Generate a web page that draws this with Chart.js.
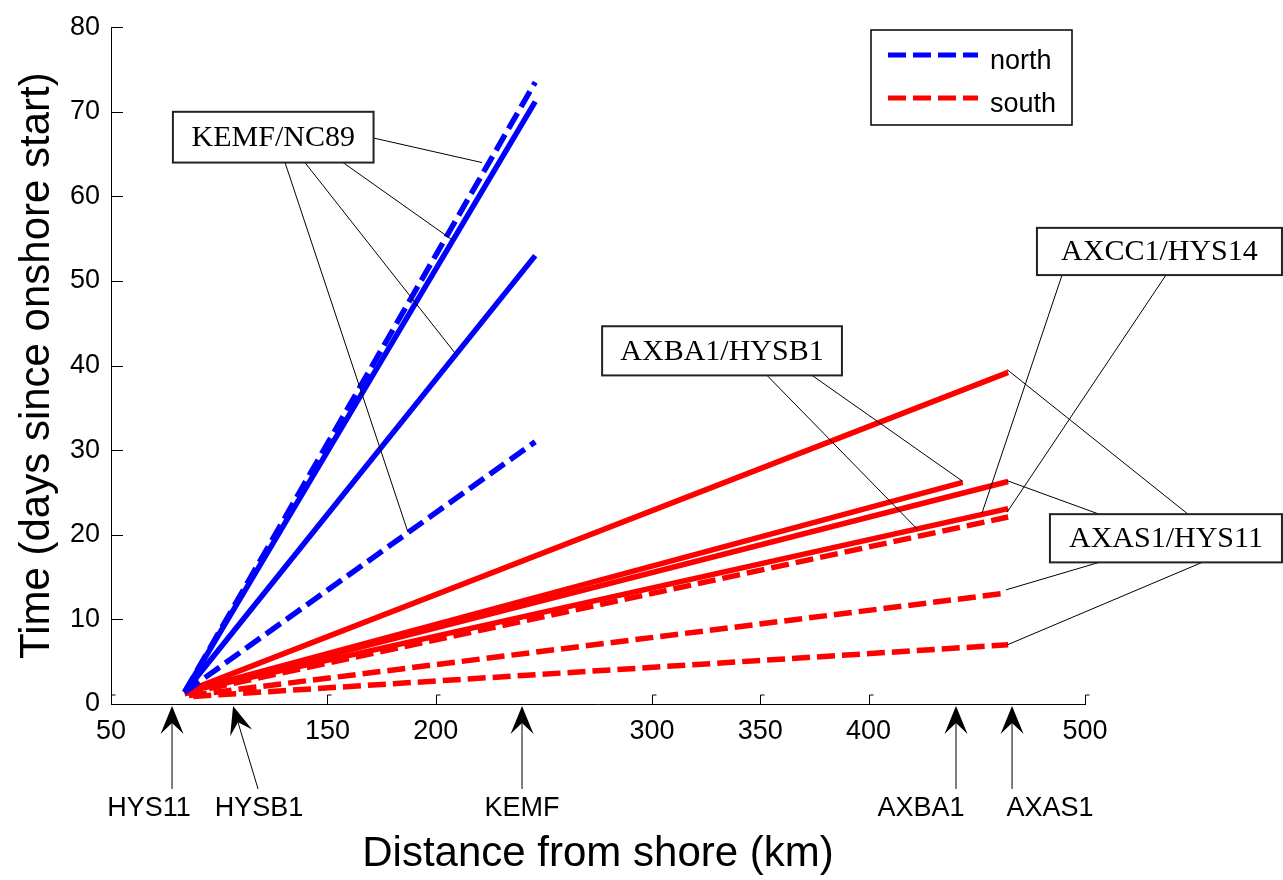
<!DOCTYPE html>
<html>
<head>
<meta charset="utf-8">
<script src="https://cdn.jsdelivr.net/npm/chart.js@4.4.1/dist/chart.umd.min.js"></script>
<style>
  html, body { margin: 0; padding: 0; background: #fff; }
</style>
</head>
<body>
<canvas id="myChart" width="1283" height="880"></canvas>
<script>
const xTickValues = [50, 150, 200, 300, 350, 400, 500];
const yTickValues = [0, 10, 20, 30, 40, 50, 60, 70, 80];

// all runs start just offshore of HYS11
const originX = 84;
const originY = 1.4;

const northEndX = 246;
const northSolidEndY = [71.2, 53.0];
const northDashedEndY = [73.5, 31.0];

const southSolidEndX = [464.5, 443.5, 464.5, 464.5];
const southSolidEndY = [39.2, 26.2, 26.3, 23.1];

const southDashedStartX = [84, 86, 88];
const southDashedStartY = [1.2, 1.0, 0.9];
const southDashedEndX = [464.5, 463.5, 464.5];
const southDashedEndY = [22.1, 13.1, 7.0];

const stationNames = ["HYS11", "HYSB1", "KEMF", "AXBA1", "AXAS1"];
const stationX = [78.2, 106.4, 239.9, 440.4, 466.3];

const legendNames = ["north", "south"];

const SANS = '"Liberation Sans", Arial, sans-serif';
const SERIF = '"Liberation Serif", "Times New Roman", serif';
const BLUE = "#0000ff";
const RED = "#ff0000";
const DASH = [18, 7];

function segment(x1, y1, x2, y2, color, dashed) {
  return {
    data: [{ x: x1, y: y1 }, { x: x2, y: y2 }],
    showLine: true,
    borderColor: color,
    backgroundColor: color,
    borderWidth: 5.5,
    borderDash: dashed ? DASH : [],
    pointRadius: 0,
    pointHoverRadius: 0,
  };
}

function buildDatasets() {
  const sets = [];
  northSolidEndY.forEach(y => sets.push(segment(originX, originY, northEndX, y, BLUE, false)));
  northDashedEndY.forEach(y => sets.push(segment(originX, originY, northEndX, y, BLUE, true)));
  southSolidEndY.forEach((y, i) => sets.push(segment(originX, originY, southSolidEndX[i], y, RED, false)));
  southDashedEndY.forEach((y, i) =>
    sets.push(segment(southDashedStartX[i], southDashedStartY[i], southDashedEndX[i], y, RED, true)));
  return sets;
}

// callout boxes and leader lines, in data units
const callouts = [
  {
    text: "KEMF/NC89", box: [78.6, 70.0, 171.3, 64.0],
    leaders: [[171.3, 66.9, 221.4, 64.0], [157.2, 64.0, 208.0, 54.8],
              [139.6, 64.0, 208.9, 41.5], [130.4, 64.0, 187.2, 20.3]],
  },
  {
    text: "AXBA1/HYSB1", box: [276.9, 44.65, 387.7, 38.84],
    leaders: [[353.1, 38.84, 422.4, 20.7], [373.9, 38.84, 443.6, 26.3]],
  },
  {
    text: "AXCC1/HYS14", box: [477.8, 56.28, 591.0, 50.7],
    leaders: [[489.4, 50.7, 452.4, 22.56], [537.4, 50.7, 464.0, 22.67]],
  },
  {
    text: "AXAS1/HYS11", box: [483.8, 22.44, 591.0, 16.74],
    leaders: [[547.6, 22.44, 464.0, 39.53], [506.5, 22.44, 464.0, 26.4],
              [506.5, 16.74, 463.5, 13.49], [554.1, 16.74, 464.0, 6.98]],
  },
];

// tail offset (px) and label offset (px) of each station arrow
const arrowTailDx = [0, 25, 0, 0, 0];
const arrowLabelDx = [-23, 26, 0, -35, 38];

function px(chart, v) { return chart.scales.x.getPixelForValue(v); }
function py(chart, v) { return chart.scales.y.getPixelForValue(v); }

const inwardTicks = {
  id: "inwardTicks",
  afterDraw(chart) {
    const ctx = chart.ctx;
    const area = chart.chartArea;
    ctx.save();
    ctx.strokeStyle = "#000";
    ctx.lineWidth = 1;
    ctx.beginPath();
    xTickValues.forEach(v => {
      const x = Math.round(px(chart, v)) + 0.5;
      ctx.moveTo(x, area.bottom);
      ctx.lineTo(x, area.bottom - 9);
      ctx.lineTo(x + 4, area.bottom - 9);
    });
    yTickValues.forEach(v => {
      const y = Math.round(py(chart, v)) + 0.5;
      ctx.moveTo(area.left, y);
      ctx.lineTo(area.left + 12, y);
    });
    ctx.stroke();
    ctx.restore();
  },
};

function drawArrow(ctx, tipX, tipY, tailX, tailY) {
  const ang = Math.atan2(tailY - tipY, tailX - tipX);
  const ux = Math.cos(ang), uy = Math.sin(ang);
  const nx = -uy, ny = ux;
  const len = 28, half = 11.5, notch = 17;
  const bx = tipX + ux * len, by = tipY + uy * len;
  ctx.beginPath();
  ctx.moveTo(tipX, tipY);
  ctx.lineTo(bx + nx * half, by + ny * half);
  ctx.lineTo(tipX + ux * notch, tipY + uy * notch);
  ctx.lineTo(bx - nx * half, by - ny * half);
  ctx.closePath();
  ctx.fill();
  ctx.beginPath();
  ctx.moveTo(tipX + ux * notch, tipY + uy * notch);
  ctx.lineTo(tailX, tailY);
  ctx.stroke();
}

const annotations = {
  id: "annotations",
  afterDatasetsDraw(chart) {
    const ctx = chart.ctx;
    ctx.save();
    ctx.strokeStyle = "#000";
    ctx.fillStyle = "#000";
    ctx.lineWidth = 1;

    callouts.forEach(c => {
      ctx.beginPath();
      c.leaders.forEach(l => {
        ctx.moveTo(px(chart, l[0]), py(chart, l[1]));
        ctx.lineTo(px(chart, l[2]), py(chart, l[3]));
      });
      ctx.stroke();
    });

    callouts.forEach(c => {
      const x1 = px(chart, c.box[0]), y1 = py(chart, c.box[1]);
      const x2 = px(chart, c.box[2]), y2 = py(chart, c.box[3]);
      ctx.fillStyle = "#fff";
      ctx.fillRect(x1, y1, x2 - x1, y2 - y1);
      ctx.lineWidth = 2;
      ctx.strokeStyle = "#222";
      ctx.strokeRect(x1, y1, x2 - x1, y2 - y1);
      ctx.fillStyle = "#000";
      ctx.font = "30px " + SERIF;
      ctx.textAlign = "center";
      ctx.textBaseline = "middle";
      ctx.fillText(c.text, (x1 + x2) / 2, (y1 + y2) / 2 + 1);
    });

    // legend
    const lx = 871, ly = 30, lw = 201, lh = 95;
    ctx.fillStyle = "#fff";
    ctx.fillRect(lx, ly, lw, lh);
    ctx.lineWidth = 1.5;
    ctx.strokeStyle = "#000";
    ctx.strokeRect(lx, ly, lw, lh);
    [BLUE, RED].forEach((color, i) => {
      const y = 55 + i * 43;
      ctx.strokeStyle = color;
      ctx.lineWidth = 5;
      ctx.setLineDash(DASH);
      ctx.beginPath();
      ctx.moveTo(888, y);
      ctx.lineTo(978, y);
      ctx.stroke();
      ctx.setLineDash([]);
      ctx.fillStyle = "#000";
      ctx.font = "27px " + SANS;
      ctx.textAlign = "left";
      ctx.textBaseline = "alphabetic";
      ctx.fillText(legendNames[i], 990, 69 + i * 43);
    });
    ctx.restore();
  },
  afterDraw(chart) {
    const ctx = chart.ctx;
    const tipY = chart.chartArea.bottom + 2;
    ctx.save();
    ctx.strokeStyle = "#000";
    ctx.fillStyle = "#000";
    ctx.lineWidth = 1;
    ctx.font = "27px " + SANS;
    ctx.textAlign = "center";
    ctx.textBaseline = "alphabetic";
    stationNames.forEach((name, i) => {
      const x = px(chart, stationX[i]);
      drawArrow(ctx, x, tipY, x + arrowTailDx[i], 789);
      ctx.fillText(name, x + arrowLabelDx[i], 816);
    });
    ctx.restore();
  },
};

function createChart() {
  Chart.defaults.font.family = SANS;
  Chart.defaults.color = "#000";

  const config = {
    type: "scatter",
    data: { datasets: buildDatasets() },
    options: {
      responsive: false,
      animation: false,
      devicePixelRatio: 1,
      layout: { padding: { top: 16, right: 198, left: 0, bottom: 0 } },
      plugins: { legend: false, tooltip: { enabled: false } },
      scales: {
        x: {
          type: "linear",
          min: 50,
          max: 500,
          afterBuildTicks(scale) { scale.ticks = xTickValues.map(v => ({ value: v })); },
          afterFit(scale) { scale.height = 176; },
          grid: { display: false, drawTicks: false },
          border: { display: true, color: "#000", width: 1 },
          ticks: { font: { size: 27 }, color: "#000", padding: 11, maxRotation: 0, autoSkip: false },
          title: {
            display: true,
            text: "Distance from shore (km)",
            font: { size: 42 },
            color: "#000",
            padding: { top: 0, bottom: 0 },
          },
        },
        y: {
          min: 0,
          max: 80,
          afterBuildTicks(scale) { scale.ticks = yTickValues.map(v => ({ value: v })); },
          afterFit(scale) { scale.width = 111; },
          grid: { display: false, drawTicks: false },
          border: { display: true, color: "#000", width: 1 },
          ticks: { font: { size: 27 }, color: "#000", padding: 11, autoSkip: false },
          title: {
            display: true,
            text: "Time (days since onshore start)",
            font: { size: 42 },
            color: "#000",
            padding: { top: 12, bottom: 0 },
          },
        },
      },
    },
    plugins: [inwardTicks, annotations],
  };

  const ctx = document.getElementById("myChart");
  const myChart = new Chart(ctx, config);
}

createChart();
</script>
</body>
</html>
